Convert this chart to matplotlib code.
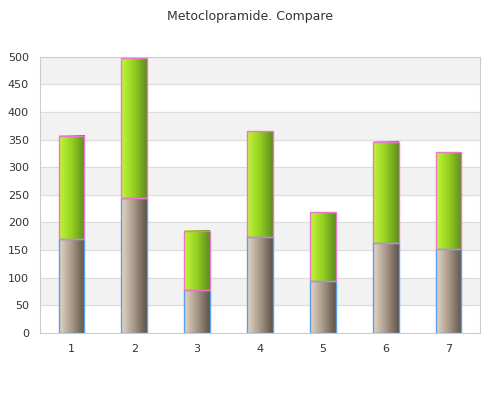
import numpy as np
import matplotlib.pyplot as plt
from matplotlib.colors import LinearSegmentedColormap

categories = ['1', '2', '3', '4', '5', '6', '7']
bottom_vals = [170, 245, 78, 174, 94, 162, 152]
top_vals = [187, 252, 107, 191, 124, 183, 175]

fig = plt.figure(figsize=(5, 4), dpi=100)
ax = fig.add_axes([0.08, 0.168, 0.88, 0.69])
fig.suptitle('Metoclopramide. Compare', y=0.975, fontsize=9, color='#333333')

x = np.arange(1, len(categories) + 1)
w = 0.41
ax.set_xlim(0.5, 7.5)
ax.set_ylim(0, 500)

for lo in range(50, 500, 100):
    ax.axhspan(lo, lo + 50, color='#f2f2f2', zorder=0)
for y in range(50, 501, 50):
    ax.axhline(y, color='#dddddd', lw=0.8, zorder=0.5)

brown = LinearSegmentedColormap.from_list('b', ['#e4d6c4', '#a89888', '#5e5448'])
green = LinearSegmentedColormap.from_list('g', ['#c4f53a', '#94d020', '#5e8c1e'])
grad = np.linspace(0, 1, 64).reshape(1, -1)

for xi, b, t in zip(x, bottom_vals, top_vals):
    ax.imshow(grad, cmap=brown, aspect='auto', extent=(xi - w/2, xi + w/2, 0, b), zorder=2)
    ax.imshow(grad, cmap=green, aspect='auto', extent=(xi - w/2, xi + w/2, b, b + t), zorder=2)

ax.bar(x, bottom_vals, w, fill=False, edgecolor='#5aa0e8', lw=1, zorder=3)
ax.bar(x, top_vals, w, bottom=bottom_vals, fill=False, edgecolor='#e878c8', lw=1, zorder=3)

ax.set_xticks(x)
ax.set_xticklabels(categories)
ax.set_yticks(range(0, 501, 50))
ax.tick_params(length=0, labelsize=8, colors='#333333', pad=8)
for s in ax.spines.values():
    s.set_color('#cccccc')
ax.set_xlim(0.5, 7.5)
ax.set_ylim(0, 500)

fig.savefig('out.png')
